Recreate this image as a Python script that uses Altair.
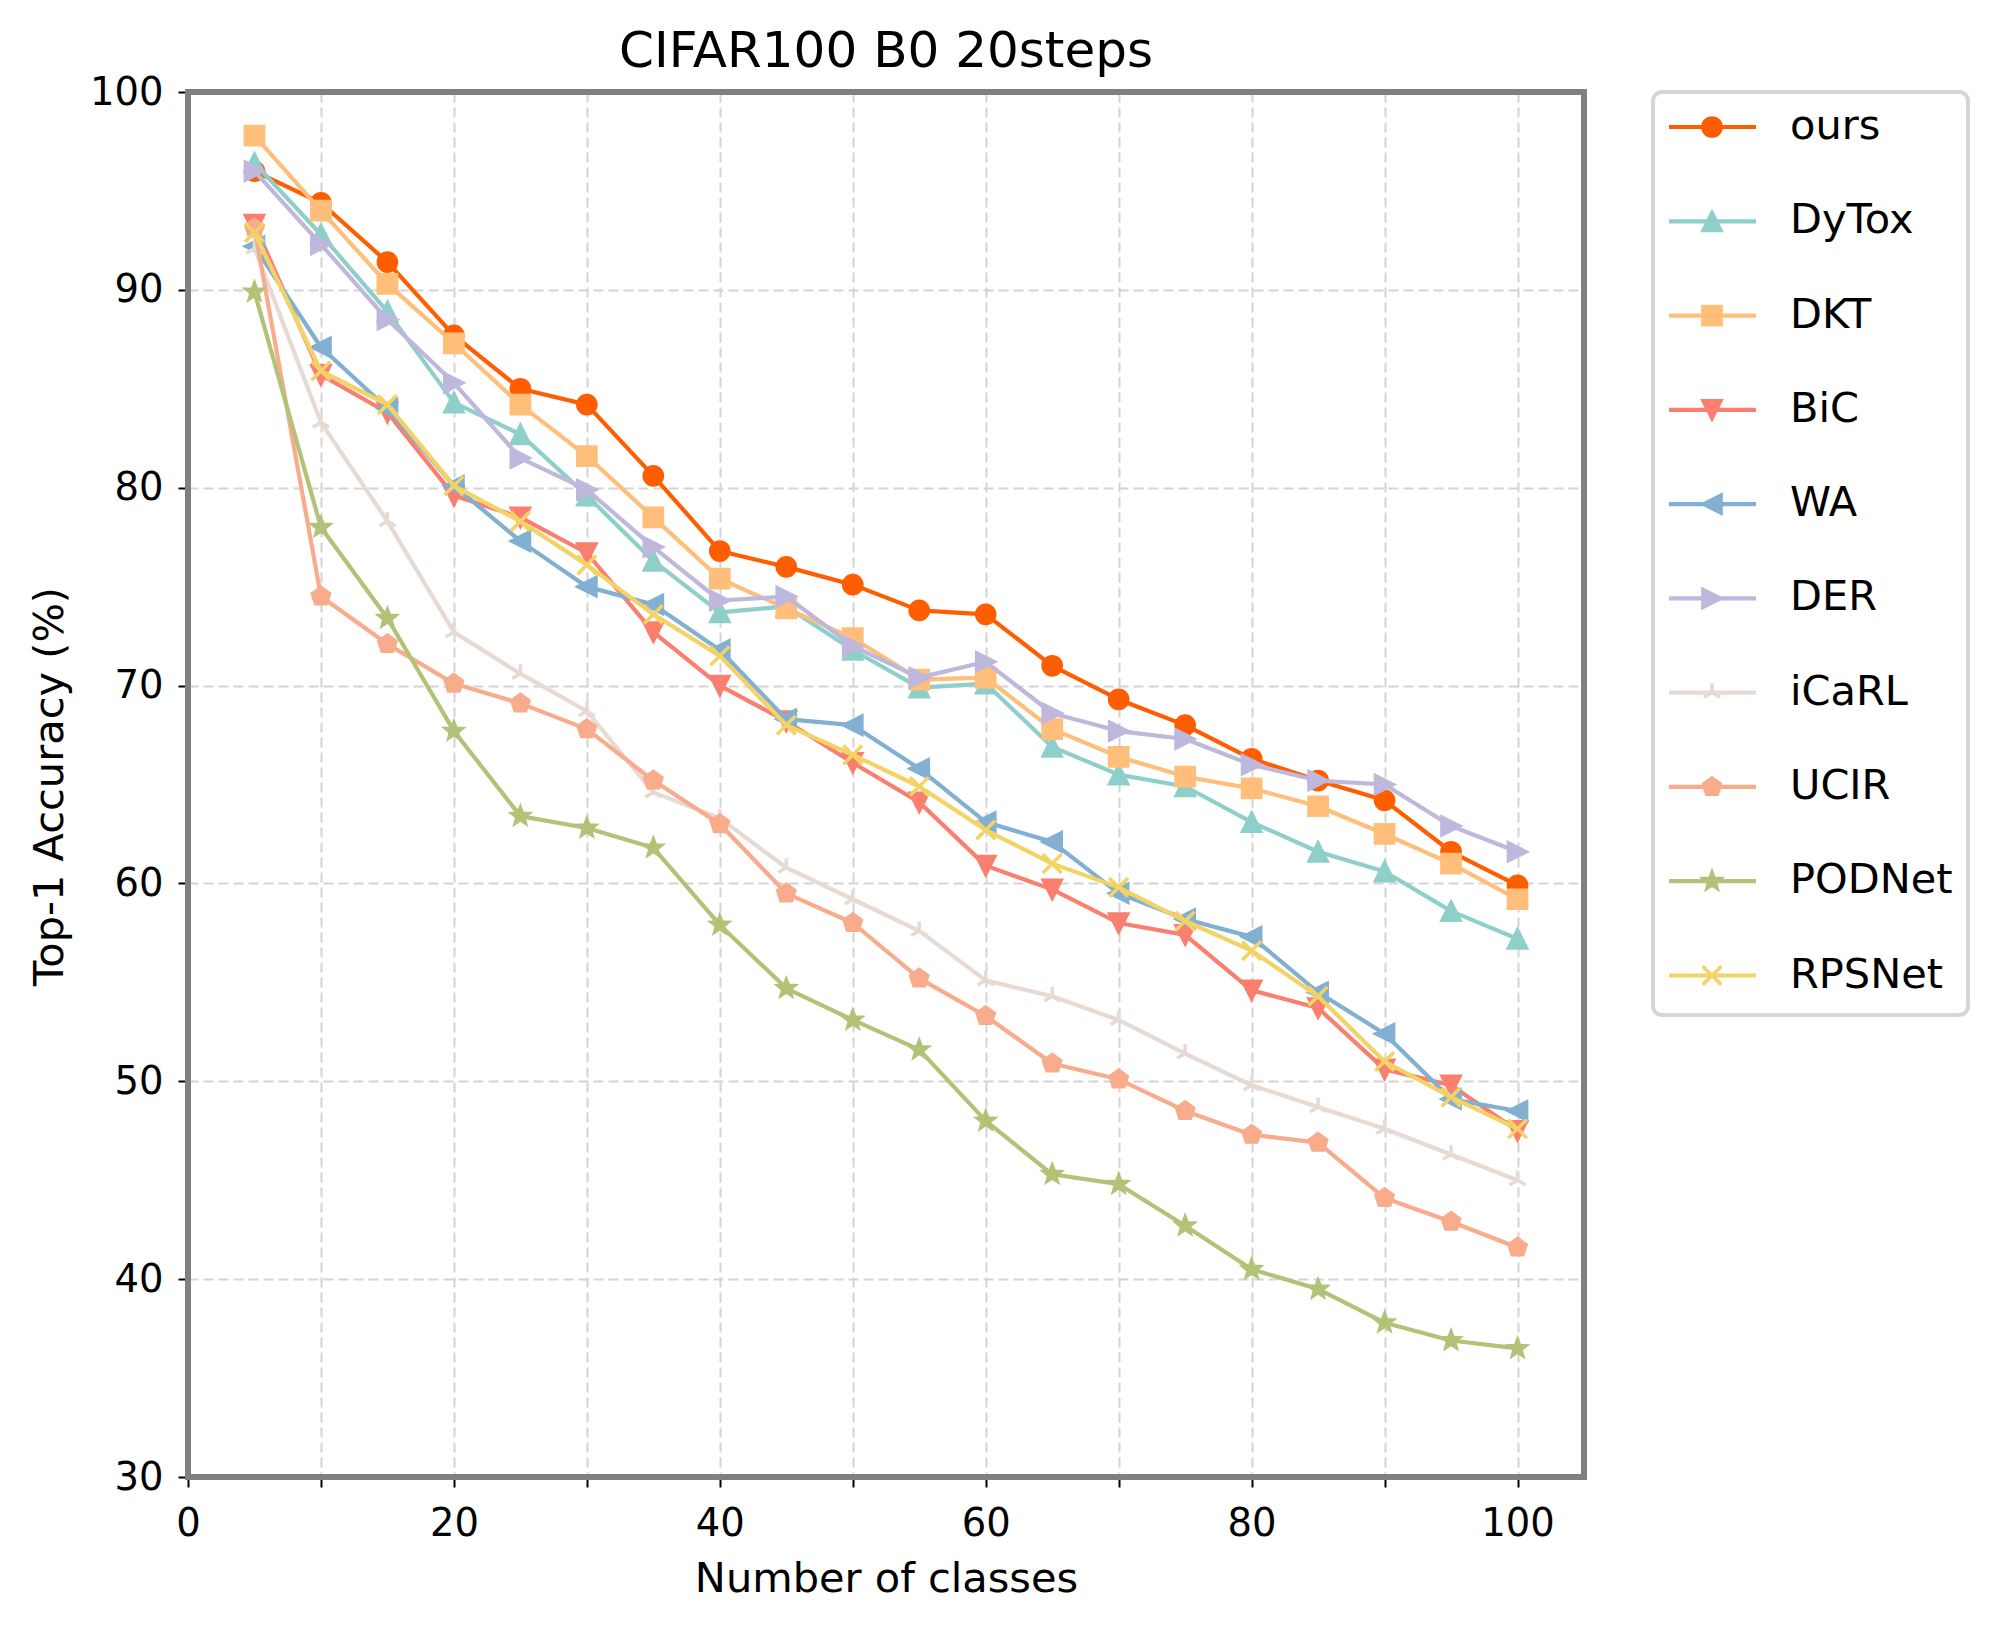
import math
import altair as alt
import pandas as pd

# ---- data -------------------------------------------------------------
classes = [5, 10, 15, 20, 25, 30, 35, 40, 45, 50, 55, 60, 65, 70, 75, 80, 85, 90, 95, 100]

methods = ["ours", "DyTox", "DKT", "BiC", "WA", "DER", "iCaRL", "UCIR", "PODNet", "RPSNet"]

acc_ours = [96.0, 94.4, 91.4, 87.7, 85.0, 84.2, 80.6, 76.8, 76.0, 75.1,
            73.8, 73.6, 71.0, 69.3, 68.0, 66.3, 65.2, 64.2, 61.6, 59.9]
acc_dytox = [96.4, 92.8, 88.9, 84.3, 82.7, 79.6, 76.3, 73.7, 74.0, 71.8,
             69.9, 70.1, 66.9, 65.5, 64.9, 63.1, 61.6, 60.6, 58.6, 57.2]
acc_dkt = [97.8, 94.0, 90.3, 87.3, 84.2, 81.6, 78.5, 75.4, 73.9, 72.4,
           70.3, 70.4, 67.8, 66.4, 65.4, 64.8, 63.9, 62.5, 61.0, 59.2]
acc_bic = [93.3, 85.7, 83.8, 79.6, 78.5, 76.7, 72.7, 70.0, 68.2, 66.1,
           64.1, 60.9, 59.7, 58.0, 57.4, 54.6, 53.7, 50.6, 49.8, 47.5]
acc_wa = [92.2, 87.1, 84.0, 80.1, 77.3, 75.0, 74.1, 71.8, 68.3, 68.0,
          65.8, 63.1, 62.1, 59.5, 58.2, 57.3, 54.5, 52.4, 49.1, 48.5]
acc_der = [96.0, 92.3, 88.5, 85.3, 81.5, 79.9, 77.0, 74.3, 74.5, 72.0,
           70.4, 71.2, 68.6, 67.7, 67.3, 66.0, 65.2, 65.0, 62.9, 61.6]
acc_icarl = [92.1, 83.3, 78.3, 72.7, 70.6, 68.7, 64.6, 63.3, 60.8, 59.2,
             57.6, 55.1, 54.3, 53.1, 51.4, 49.8, 48.7, 47.6, 46.3, 45.0]
acc_ucir = [93.1, 74.5, 72.1, 70.1, 69.1, 67.8, 65.2, 63.0, 59.5, 58.0,
            55.2, 53.3, 50.9, 50.1, 48.5, 47.3, 46.9, 44.1, 42.9, 41.6]
acc_podnet = [89.9, 78.0, 73.4, 67.7, 63.4, 62.8, 61.8, 57.9, 54.7, 53.1,
              51.6, 48.0, 45.3, 44.8, 42.7, 40.5, 39.5, 37.8, 36.9, 36.5]
acc_rpsnet = [92.9, 85.9, 84.2, 80.1, 78.3, 76.1, 73.6, 71.5, 68.0, 66.5,
              64.9, 62.7, 61.0, 59.8, 58.1, 56.6, 54.3, 51.0, 49.2, 47.6]

series_values = [acc_ours, acc_dytox, acc_dkt, acc_bic, acc_wa,
                 acc_der, acc_icarl, acc_ucir, acc_podnet, acc_rpsnet]

colors = ["#ff5e00", "#8ecfc9", "#ffbe7a", "#fa7f6f", "#82b0d2",
          "#beb8dc", "#e7dad2", "#f8ac8c", "#b2c277", "#f3d266"]

x_ticks = [0, 10, 20, 30, 40, 50, 60, 70, 80, 90, 100]
y_ticks = [30, 40, 50, 60, 70, 80, 90, 100]


# ---- marker shapes (unit box -1..1, y pointing down) -------------------
def regular_path(n, inner=None):
    pts = []
    steps = 2 * n if inner else n
    for k in range(steps):
        r = inner if (inner and k % 2 == 1) else 1.0
        a = math.pi / 2 + k * 2 * math.pi / steps
        pts.append((r * math.cos(a), -r * math.sin(a)))
    return "M" + "L".join(f"{px:.3f},{py:.3f}" for px, py in pts) + "Z"


marker_shapes = [
    "circle",
    "M0,-1L1,1L-1,1Z",                               # triangle up
    "M-1,-1L1,-1L1,1L-1,1Z",                         # square
    "M0,1L1,-1L-1,-1Z",                              # triangle down
    "M-1,0L1,-1L1,1Z",                               # triangle left
    "M1,0L-1,-1L-1,1Z",                              # triangle right
    "M0,0L0,-1M0,0L-0.866,0.5M0,0L0.866,0.5",        # tri up
    regular_path(5),                                 # pentagon
    regular_path(5, inner=0.42),                     # star
    "M-1,-1L1,1M-1,1L1,-1",                          # x
]
outline_markers = ["iCaRL", "RPSNet"]

rows = []
for name, vals in zip(methods, series_values):
    for c, v in zip(classes, vals):
        rows.append({"series": name, "classes": c, "acc": v})
df = pd.DataFrame(rows)

legend_df = pd.DataFrame({"series": methods, "row": list(range(len(methods)))})

# ---- shared encodings ---------------------------------------------------
FONT = "DejaVu Sans"
W, H = 1396, 1385
MARKER = 350

color_scale = alt.Scale(domain=methods, range=colors)
color_enc = alt.Color("series:N", scale=color_scale, legend=None)
stroke_enc = alt.Stroke("series:N", scale=color_scale, legend=None)
shape_enc = alt.Shape("series:N", scale=alt.Scale(domain=methods, range=marker_shapes), legend=None)

axis_common = dict(
    domain=False,
    grid=True,
    gridColor="#d4d4d4",
    gridDash=[10, 5],
    gridWidth=2,
    ticks=True,
    tickColor="black",
    tickSize=10,
    tickWidth=2,
    labelFont=FONT,
    labelFontSize=38.5,
    labelColor="black",
    labelFlush=False,
    labelOverlap=False,
    titleFont=FONT,
    titleFontSize=41.5,
    titleFontWeight="normal",
    titleColor="black",
)

x_enc = alt.X(
    "classes:Q",
    scale=alt.Scale(domain=[0, 105], nice=False, zero=False),
    axis=alt.Axis(
        values=x_ticks,
        labelExpr="datum.value % 20 == 0 ? datum.label : ''",
        labelPadding=18,
        title="Number of classes",
        titleX=W / 2,
        titleY=114,
        titleAlign="center",
        titleBaseline="alphabetic",
        **axis_common,
    ),
)
y_enc = alt.Y(
    "acc:Q",
    scale=alt.Scale(domain=[30, 100], nice=False, zero=False),
    axis=alt.Axis(
        values=y_ticks,
        labelPadding=15,
        title="Top-1 Accuracy (%)",
        titleAngle=-90,
        titleX=-126,
        titleY=694,
        titleAlign="center",
        titleBaseline="alphabetic",
        **axis_common,
    ),
)

# ---- plotted series (line, then its markers, series by series) ----------
main_layers = []
for name in methods:
    sub = df[df["series"] == name]
    main_layers.append(
        alt.Chart(sub).mark_line(strokeWidth=4.2, strokeJoin="round")
        .encode(x=x_enc, y=y_enc, color=color_enc)
    )
    if name in outline_markers:
        pts = alt.Chart(sub).mark_point(filled=False, size=MARKER, strokeWidth=3.5, opacity=1)
    else:
        pts = alt.Chart(sub).mark_point(filled=True, size=MARKER, strokeWidth=3, opacity=1)
    main_layers.append(
        pts.encode(x=x_enc, y=y_enc, color=color_enc, stroke=stroke_enc, shape=shape_enc)
    )
main = alt.layer(*main_layers)

one_row = pd.DataFrame({"k": [0]})

# plot frame drawn above the grid and the series
frame = alt.Chart(one_row).mark_rect(
    fillOpacity=0, stroke="#808080", strokeWidth=6
).encode(x=alt.value(0), x2=alt.value(W), y=alt.value(0), y2=alt.value(H))

# ---- legend panel -------------------------------------------------------
leg_y = alt.Y("row:Q", scale=alt.Scale(domain=[0, 9], range=[35, 883.5], nice=False, zero=False), axis=None)

leg_frame = alt.Chart(one_row).mark_rect(
    fill="white", stroke="#d6d6d6", strokeWidth=4, cornerRadius=9
).encode(x=alt.value(1465), x2=alt.value(1780), y=alt.value(0), y2=alt.value(923))

leg_rules = alt.Chart(legend_df).mark_rule(strokeWidth=4.2).encode(
    x=alt.value(1481), x2=alt.value(1568), y=leg_y, color=color_enc
)
leg_pts_filled = alt.Chart(legend_df).transform_filter(
    alt.FieldOneOfPredicate(field="series", oneOf=[m for m in methods if m not in outline_markers])
).mark_point(filled=True, size=MARKER, strokeWidth=3, opacity=1).encode(
    x=alt.value(1524), y=leg_y, color=color_enc, stroke=stroke_enc, shape=shape_enc
)
leg_pts_open = alt.Chart(legend_df).transform_filter(
    alt.FieldOneOfPredicate(field="series", oneOf=outline_markers)
).mark_point(filled=False, size=MARKER, strokeWidth=3.5, opacity=1).encode(
    x=alt.value(1524), y=leg_y, color=color_enc, stroke=stroke_enc, shape=shape_enc
)
leg_text = alt.Chart(legend_df).mark_text(
    align="left", baseline="middle", font=FONT, fontSize=41.5, color="black"
).encode(x=alt.value(1602), y=leg_y, text="series:N")

legend = alt.layer(leg_frame, leg_rules, leg_pts_filled, leg_pts_open, leg_text)

# ---- title ----------------------------------------------------------------
title = alt.Chart(one_row).mark_text(
    align="center", baseline="alphabetic", font=FONT, fontSize=50, color="black"
).encode(x=alt.value(W / 2), y=alt.value(-25), text=alt.value("CIFAR100 B0 20steps"))

chart = (
    alt.layer(main, frame, legend, title)
    .resolve_scale(y="independent")
    .properties(
        width=W,
        height=H,
        autosize=alt.AutoSizeParams(type="none"),
        padding={"left": 188, "top": 92, "right": 413, "bottom": 151},
        background="white",
    )
    .configure_view(strokeWidth=0)
)

chart.save("out.html", embed_options={"renderer": "svg", "actions": False})
